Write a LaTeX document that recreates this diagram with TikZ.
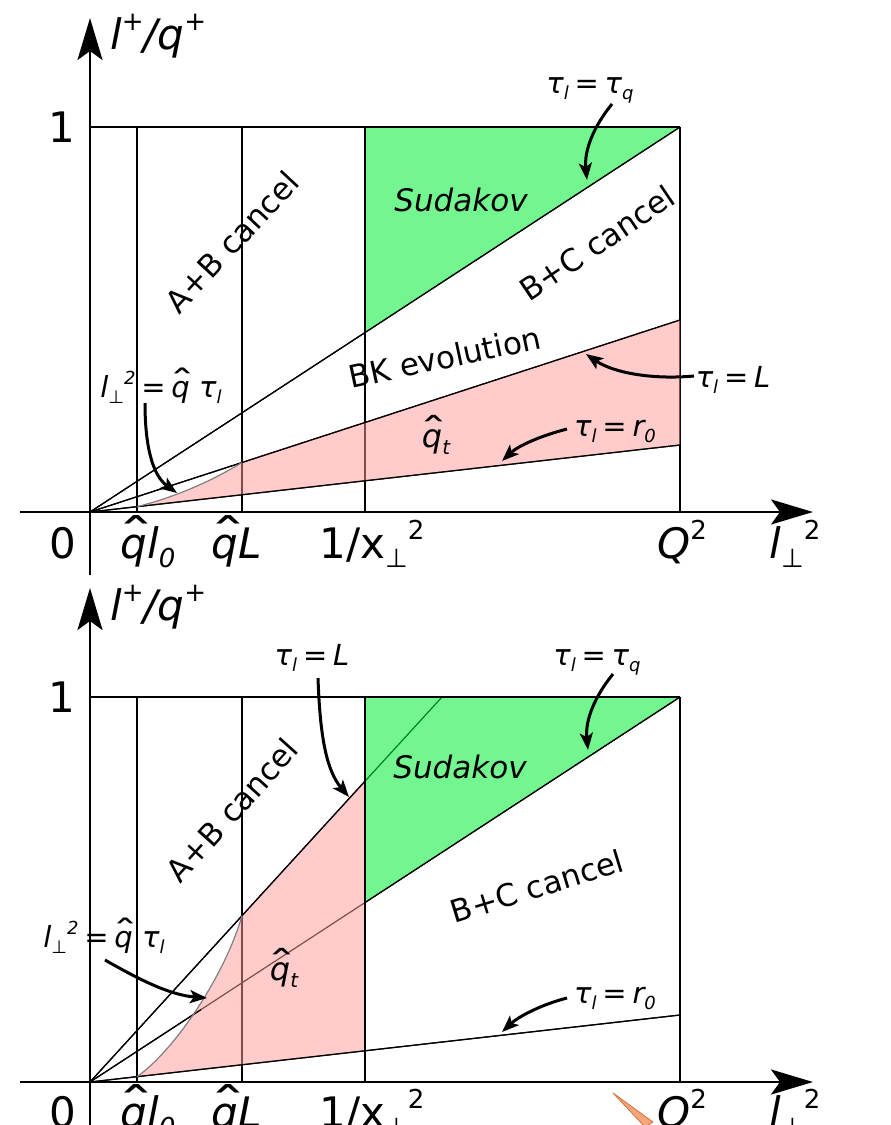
\documentclass[tikz,border=0pt]{standalone}
\usepackage{fontspec}
\setmainfont{DejaVu Sans}
\usetikzlibrary{arrows.meta}
\definecolor{pinkc}{RGB}{255,153,153}
\definecolor{greenc}{RGB}{0,240,51}
\definecolor{orfill}{RGB}{244,166,122}
\definecolor{ordraw}{RGB}{212,112,60}
\newcommand\myup[1]{\raisebox{0.8ex}{\scalebox{0.62}{#1}}}
\newcommand\mydn[1]{\raisebox{-0.4ex}{\scalebox{0.62}{#1}}}
\newcommand\qhat{\leavevmode\rlap{\makebox[0.63em]{\hspace{0.14em}\raisebox{0.12em}{\upshape\scalebox{1.8}[1.1]{ˆ}}}}q}
\newcommand\lperp{\textit{l}\mydn{⊥}\myup{2}}
\newcommand\mygap{\hspace{0.2em}}
\begin{document}
\begin{tikzpicture}[x=1pt,y=-1pt,
  thinl/.style={line width=1.2pt},
  axisline/.style={line width=2.7pt,-{Stealth[length=42pt,width=25pt,inset=9pt]}},
  carrow/.style={line width=3pt,-{Stealth[length=17pt,width=13pt,inset=4pt]}},
  big/.style={font=\fontsize{42}{50}\selectfont,inner sep=0pt},
  mid/.style={font=\fontsize{31}{37}\selectfont,inner sep=0pt},
  small/.style={font=\fontsize{29}{34}\selectfont\itshape,inner sep=0pt},
  pinkfill/.style={fill=pinkc,fill opacity=0.5},
  greenfill/.style={fill=greenc,fill opacity=0.55},
  curveline/.style={line width=1.2pt,draw=black!50},
]
\fill[white] (0,0) rectangle (891,1125);
\useasboundingbox (0,0) rectangle (891,1125);

% ================= top panel =================
\begin{scope}
\coordinate (O) at (90,512);
\coordinate (Tq) at (680,127);
\coordinate (TL) at (680,320);
\coordinate (Tr) at (680,445);
\draw[thinl] (90,127) -- (680,127);
\foreach \x in {137,242,365,680} \draw[thinl] (\x,127) -- (\x,512);
\draw[thinl] (O) -- (Tq);
\draw[thinl] (O) -- (TL);
\draw[thinl] (O) -- (Tr);
\fill[pinkfill] (137,506.7) .. controls (175,497) and (210,482) .. (242,462.5) -- (TL) -- (Tr) -- cycle;
\fill[greenfill] (365,127) -- (680,127) -- (365,332.55) -- cycle;
\draw[thinl] (O) -- (Tq);
\draw[thinl] (O) -- (TL);
\draw[thinl] (O) -- (Tr);
\draw[thinl] (365,127) -- (365,332.55);
\draw[thinl] (90,127) -- (680,127);
\draw[curveline] (137,506.7) .. controls (175,497) and (210,482) .. (242,462.5);
\coordinate (xa0) at (20,512); \coordinate (xa1) at (813,512);
\coordinate (ya0) at (90,575); \coordinate (ya1) at (90,18);
\draw[axisline] (xa0) -- (xa1);
\draw[axisline] (ya0) -- (ya1);

\node[big,anchor=base west] (ylab1) at (110,49) {\itshape l\myup{\upshape +}/q\myup{\upshape +}};
\node[big] (one1) at (62,127) {1};
\node[big,anchor=base] (z1) at (63,558) {0};
\node[big,anchor=base] (ql01) at (148,558) {\itshape\qhat l\mydn{0}};
\node[big,anchor=base] (qL1) at (237,558) {\itshape\qhat L};
\node[big,anchor=base] (x1) at (372,558) {1/x\mydn{⊥}\myup{2}};
\node[big,anchor=base] (Q1) at (682,558) {\textit{Q}\myup{2}};
\node[big,anchor=base] (lp1) at (795,558) {\lperp};

\node[mid,rotate=47] (ab1) at (232,242) {A+B cancel};
\node[mid,anchor=base,font=\fontsize{31}{36}\selectfont\itshape] (sud1) at (461,211) {Sudakov};
\node[mid,rotate=34] (bc1) at (597,243) {B+C cancel};
\node[mid,rotate=12] (bk1) at (445,357) {BK evolution};
\node[mid,anchor=base,font=\fontsize{32}{37}\selectfont\itshape] (qt1) at (436,447) {\qhat\mydn{t}};

\node[small,anchor=base] (tq1) at (590,93) {τ\mydn{l}\mygap=\mygap τ\mydn{q}};
\node[small,anchor=base] (tL1) at (733,387) {τ\mydn{l}\mygap=\mygap L};
\node[small,anchor=base] (tr1) at (615,436) {τ\mydn{l}\mygap=\mygap r\mydn{0}};
\node[small,anchor=base] (lq1) at (161,397) {\lperp\mygap=\mygap\qhat\ τ\mydn{l}};

\coordinate (tq1s) at (612,104); \coordinate (tq1e) at (587,180);
\coordinate (tL1s) at (694,376); \coordinate (tL1e) at (586,354);
\coordinate (tr1s) at (567,429); \coordinate (tr1e) at (502,461);
\coordinate (lq1s) at (145,403); \coordinate (lq1e) at (177,493);
\draw[carrow] (tq1s) .. controls (594,126) and (584,150) .. (tq1e);
\draw[carrow] (tL1s) .. controls (650,380) and (612,372) .. (tL1e);
\draw[carrow] (tr1s) .. controls (540,436) and (518,446) .. (tr1e);
\draw[carrow] (lq1s) .. controls (145,445) and (152,475) .. (lq1e);
\end{scope}

% ================= bottom panel =================
\begin{scope}[shift={(0,570)}]
\coordinate (O2) at (90,512);
\coordinate (Tq2) at (680,127);
\coordinate (TL2) at (442,127);
\coordinate (Tr2) at (680,445);
\draw[thinl] (90,127) -- (680,127);
\foreach \x in {137,242,365,680} \draw[thinl] (\x,127) -- (\x,512);
\draw[thinl] (O2) -- (Tq2);
\draw[thinl] (O2) -- (TL2);
\draw[thinl] (O2) -- (Tr2);
\fill[pinkfill] (137,506.7) .. controls (175,480) and (225,405) .. (242,345.7) -- (365,211.2) -- (365,480.8) -- cycle;
\fill[greenfill] (365,127) -- (680,127) -- (365,332.55) -- cycle;
\draw[thinl] (O2) -- (365,211.2);
\draw[thinl] (365,127) -- (365,480.8);
\draw[thinl] (O2) -- (Tr2);
\draw[thinl] (O2) -- (201,439.6);
\draw[thinl] (365,332.55) -- (Tq2);
\draw[thinl] (90,127) -- (680,127);
\draw[curveline] (137,506.7) .. controls (175,480) and (225,405) .. (242,345.7);
\coordinate (xb0) at (20,512); \coordinate (xb1) at (813,512);
\coordinate (yb0) at (90,600); \coordinate (yb1) at (90,18);
\draw[axisline] (xb0) -- (xb1);
\draw[axisline] (yb0) -- (yb1);

\node[big,anchor=base west] (ylab2) at (110,50) {\itshape l\myup{\upshape +}/q\myup{\upshape +}};
\node[big] (one2) at (62,127) {1};
\node[big,anchor=base] (z2) at (63,557) {0};
\node[big,anchor=base] (ql02) at (148,557) {\itshape\qhat l\mydn{0}};
\node[big,anchor=base] (qL2) at (237,557) {\itshape\qhat L};
\node[big,anchor=base] (x2) at (372,557) {1/x\mydn{⊥}\myup{2}};
\node[big,anchor=base] (Q2) at (682,557) {\textit{Q}\myup{2}};
\node[big,anchor=base] (lp2) at (795,557) {\lperp};

\node[mid,rotate=48] (ab2) at (232,240) {A+B cancel};
\node[mid,anchor=base,font=\fontsize{31}{36}\selectfont\itshape] (sud2) at (460,208) {Sudakov};
\node[mid,rotate=17] (bc2) at (537,316) {B+C cancel};
\node[mid,anchor=base,font=\fontsize{32}{37}\selectfont\itshape] (qt2) at (284,410) {\qhat\mydn{t}};

\node[small,anchor=base] (tq2) at (597,95) {τ\mydn{l}\mygap=\mygap τ\mydn{q}};
\node[small,anchor=base] (tL2) at (312,95) {τ\mydn{l}\mygap=\mygap L};
\node[small,anchor=base] (tr2) at (615,433) {τ\mydn{l}\mygap=\mygap r\mydn{0}};
\node[small,anchor=base] (lq2) at (104,377) {\lperp\mygap=\mygap\qhat\ τ\mydn{l}};

\coordinate (tq2s) at (613,104); \coordinate (tq2e) at (588,180);
\coordinate (tL2s) at (318,108); \coordinate (tL2e) at (349,227);
\coordinate (tr2s) at (567,428); \coordinate (tr2e) at (502,462);
\coordinate (lq2s) at (105,390); \coordinate (lq2e) at (207,428);
\draw[carrow] (tq2s) .. controls (595,126) and (585,150) .. (tq2e);
\draw[carrow] (tL2s) .. controls (320,165) and (326,200) .. (tL2e);
\draw[carrow] (tr2s) .. controls (540,435) and (518,447) .. (tr2e);
\draw[carrow] (lq2s) .. controls (140,410) and (170,425) .. (lq2e);
\end{scope}

% orange sliver
\filldraw[fill=orfill,draw=ordraw,line width=0.8pt] (613,1093) -- (653,1122) -- (645,1127) -- cycle;
\end{tikzpicture}
\end{document}
